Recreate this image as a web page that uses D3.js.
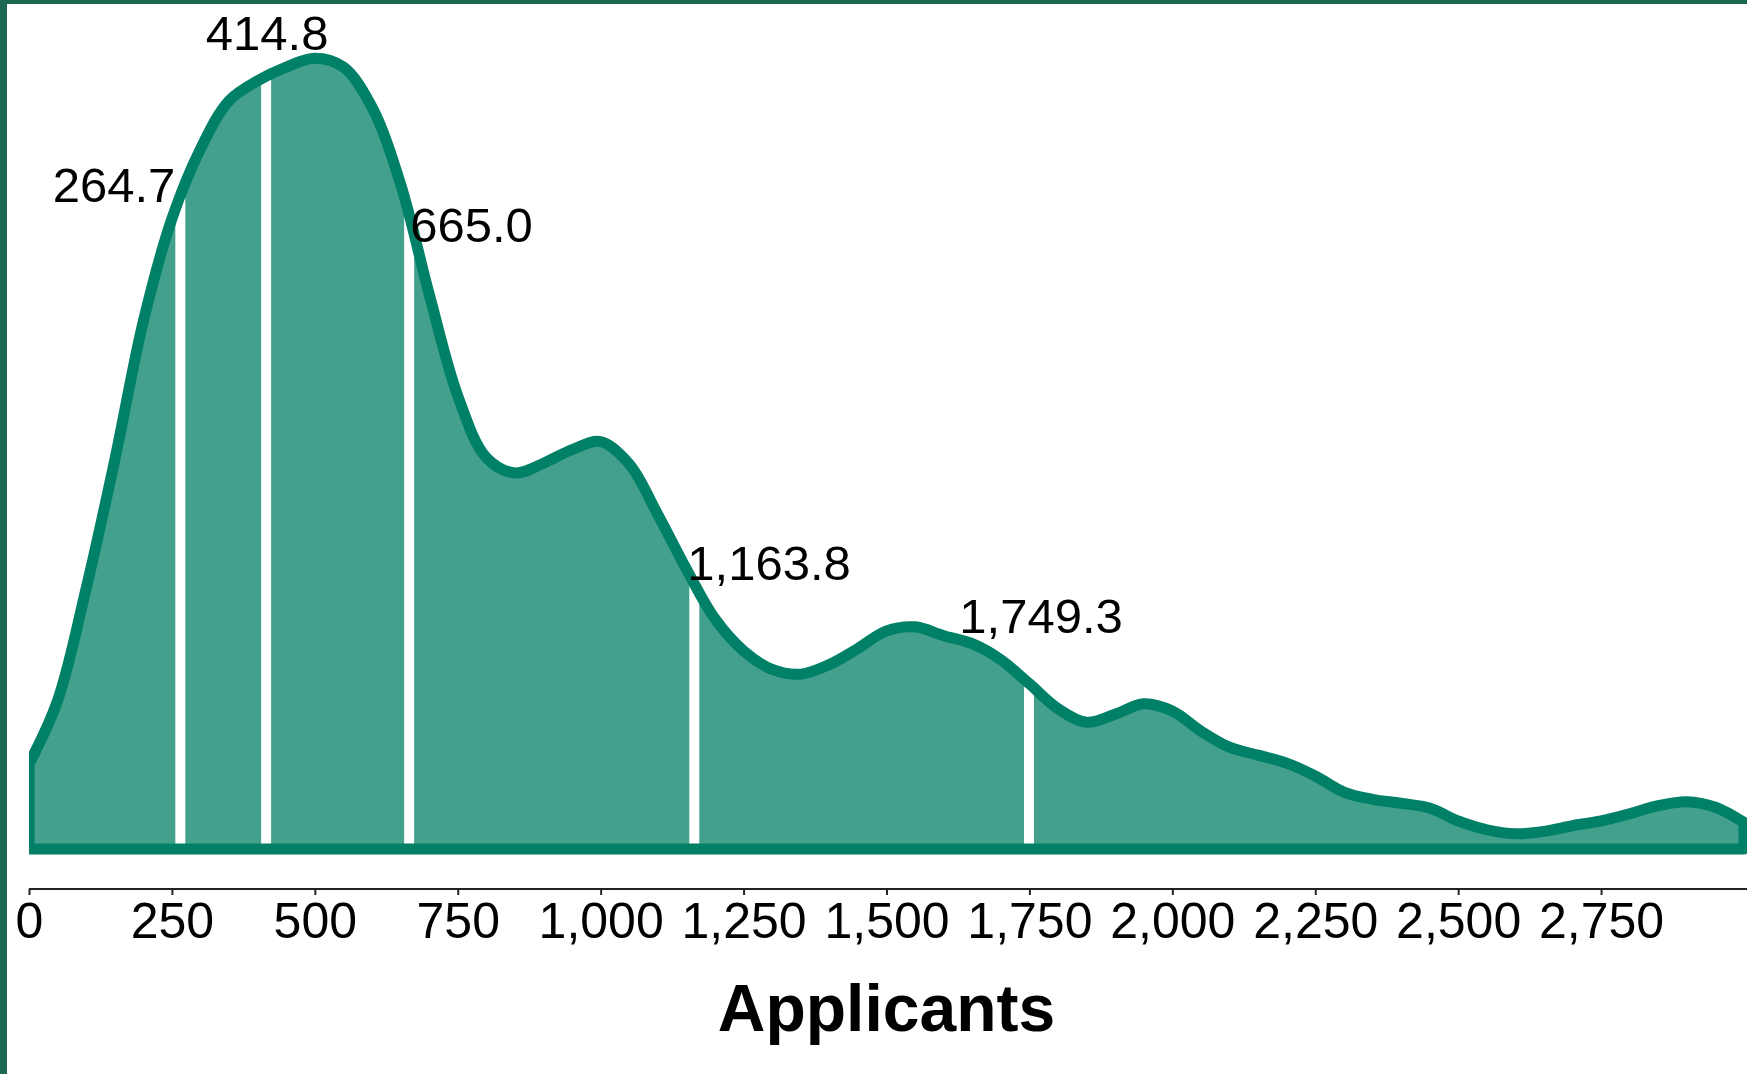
<!DOCTYPE html>
<html>
<head>
<meta charset="utf-8">
<script src="https://cdn.jsdelivr.net/npm/d3@7"></script>
<style>
  html, body { margin: 0; padding: 0; background: #ffffff; }
  svg { display: block; }
  text { font-family: "Liberation Sans", Arial, sans-serif; }
</style>
</head>
<body>
<svg id="chart" width="1747" height="1074"></svg>
<script>
// ---- data ----
const applicants = [0,50,100,150,200,250,300,350,400,450,500,550,600,650,700,750,800,850,900,950,
  1000,1050,1100,1150,1200,1250,1300,1350,1400,1450,1500,1550,1600,1650,1700,1750,1800,1850,1900,1950,
  2000,2050,2100,2150,2200,2250,2300,2350,2400,2450,2500,2550,2600,2650,2700,2750,2800,2850,2900,2950,3000];
// density (x 1e-4 per applicant)
const density = [1.06,1.85,3.25,4.85,6.58,7.86,8.73,9.33,9.58,9.75,9.86,9.75,9.25,8.29,6.92,5.65,4.88,4.69,4.81,4.98,
  5.08,4.80,4.17,3.49,2.87,2.47,2.24,2.18,2.30,2.50,2.72,2.77,2.66,2.56,2.36,2.06,1.75,1.58,1.68,1.81,
  1.72,1.47,1.27,1.17,1.07,0.91,0.71,0.62,0.57,0.51,0.35,0.24,0.19,0.22,0.29,0.35,0.44,0.54,0.59,0.52,0.33];
const quantiles = [264.7, 414.8, 665.0, 1163.8, 1749.3];
const tickValues = [0,250,500,750,1000,1250,1500,1750,2000,2250,2500,2750];
const axisTitle = "Applicants";

// label placement relative to the top of each quantile line
const labelLayout = [
  {anchor: "end",    dx: -5, dy: 4},
  {anchor: "middle", dx: 1,  dy: -27},
  {anchor: "start",  dx: 1,  dy: 25},
  {anchor: "start",  dx: -7, dy: -3},
  {anchor: "middle", dx: 12, dy: -50}
];

// ---- drawing ----
const W = 1747, H = 1074;
const svg = d3.select("#chart");
const fmt = d3.format(",.1f");

const x = d3.scaleLinear().domain([0, 3000]).range([29, 1744]);
const y = d3.scaleLinear().domain([0, 10]).range([849, 47]);

const pts = applicants.map((a, i) => ({a, d: density[i]}));
const interp = v => {
  const i = d3.bisectRight(applicants, v) - 1;
  const j = Math.min(i + 1, applicants.length - 1);
  if (i === j) return density[i];
  const t = (v - applicants[i]) / (applicants[j] - applicants[i]);
  return density[i] + t * (density[j] - density[i]);
};

// frame border (left & top)
svg.append("rect").attr("x", 0).attr("y", 0).attr("width", 7).attr("height", H).attr("fill", "#1b6853");
svg.append("rect").attr("x", 0).attr("y", 0).attr("width", W).attr("height", 4).attr("fill", "#1b6853");

svg.append("defs").append("clipPath").attr("id", "plotclip")
  .append("rect").attr("x", x(0)).attr("y", 0).attr("width", W).attr("height", H);

const g = svg.append("g").attr("clip-path", "url(#plotclip)");

const area = d3.area()
  .x(p => x(p.a))
  .y0(y(0))
  .y1(p => y(p.d))
  .curve(d3.curveCatmullRom.alpha(0.5));

g.append("path").datum(pts).attr("d", area).attr("fill", "#42a08d").attr("stroke", "none");

g.selectAll("line.q").data(quantiles).enter().append("line")
  .attr("class", "q")
  .attr("x1", q => x(q)).attr("x2", q => x(q))
  .attr("y1", y(0)).attr("y2", q => y(interp(q)))
  .attr("stroke", "#ffffff").attr("stroke-width", 10);

g.append("path").datum(pts).attr("d", area)
  .attr("fill", "none").attr("stroke", "#008066").attr("stroke-width", 11)
  .attr("stroke-linejoin", "round");

// quantile labels
svg.selectAll("text.ql").data(quantiles).enter().append("text")
  .attr("class", "ql")
  .attr("x", (q, i) => x(q) + labelLayout[i].dx)
  .attr("y", (q, i) => y(interp(q)) + labelLayout[i].dy)
  .attr("text-anchor", (q, i) => labelLayout[i].anchor)
  .attr("font-size", 49)
  .attr("fill", "#000")
  .text(q => fmt(q));

// x axis
const axis = d3.axisBottom(x).tickValues(tickValues).tickFormat(d3.format(",")).tickSize(6).tickSizeOuter(0).tickPadding(7);
const ax = svg.append("g").attr("transform", "translate(0,889)").call(axis);
ax.select(".domain").attr("stroke", "#222").attr("stroke-width", 2).attr("d", `M${x(0)},0H${W}`);
ax.selectAll(".tick line").attr("stroke", "#222").attr("stroke-width", 2);
ax.selectAll(".tick text").attr("font-size", 50).attr("fill", "#000")
  .attr("font-family", "'Liberation Sans', Arial, sans-serif");

svg.append("text")
  .attr("x", (x(0) + x(3000)) / 2).attr("y", 1031)
  .attr("text-anchor", "middle")
  .attr("font-size", 66).attr("font-weight", "bold").attr("fill", "#000")
  .text(axisTitle);
</script>
</body>
</html>
